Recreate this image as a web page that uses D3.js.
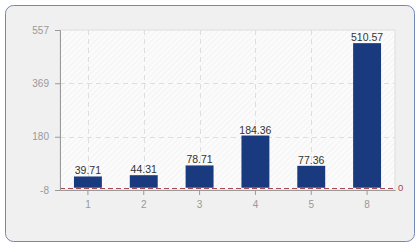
<!DOCTYPE html>
<html>
<head>
<meta charset="utf-8">
<script src="https://cdn.jsdelivr.net/npm/d3@7"></script>
<style>
  body { margin: 0; background: #fff; }
  svg { display: block; font-family: "Liberation Sans", Arial, sans-serif; }
</style>
</head>
<body>
<div class="chartWrapper"></div>
<script>
var categories = ["1", "2", "3", "4", "5", "8"]
var values = [39.71, 44.31, 78.71, 184.36, 77.36, 510.57]
var yTicks = [-8, 180, 369, 557]

var W = 420, H = 250
var margin = {top: 30, right: 25, bottom: 60, left: 60}
var plotW = W - margin.left - margin.right,
    plotH = H - margin.top - margin.bottom

var svg = d3.select('.chartWrapper').append('svg')
    .attr('width', W)
    .attr('height', H)

// hatched plot background
var defs = svg.append('defs')
var pat = defs.append('pattern')
    .attr('id', 'hatch')
    .attr('patternUnits', 'userSpaceOnUse')
    .attr('width', 4)
    .attr('height', 4)
    .attr('patternTransform', 'rotate(45)')
pat.append('rect').attr('width', 4).attr('height', 4).attr('fill', '#fbfbfb')
pat.append('line').attr('x1', 0).attr('y1', 0).attr('x2', 0).attr('y2', 4)
    .attr('stroke', '#ececec').attr('stroke-width', 1)

// outer panel
svg.append('rect')
    .attr('x', 5.5).attr('y', 5.5)
    .attr('width', 409).attr('height', 236)
    .attr('rx', 8).attr('ry', 8)
    .attr('fill', '#f0f0f0')
    .attr('stroke', '#7387b5')
    .attr('stroke-width', 1)

var g = svg.append('g').attr('transform', 'translate(' + margin.left + ',' + margin.top + ')')

var x = d3.scaleBand().domain(categories).range([0, plotW]).paddingInner(0.5).paddingOuter(0.25)
var y = d3.scaleLinear().domain([yTicks[0], yTicks[yTicks.length - 1]]).range([plotH, 0])

g.append('rect')
    .attr('width', plotW).attr('height', plotH)
    .attr('fill', 'url(#hatch)')
    .attr('stroke', '#dddddd')

// grid
g.selectAll('.vgrid')
    .data(categories.slice(0, -1))
    .enter().append('line')
    .attr('x1', function(d) { return Math.round(x(d) + x.bandwidth() / 2) + 0.5 })
    .attr('x2', function(d) { return Math.round(x(d) + x.bandwidth() / 2) + 0.5 })
    .attr('y1', 0).attr('y2', plotH)
    .attr('stroke', '#dedede')
    .attr('stroke-dasharray', '5,4')

g.selectAll('.hgrid')
    .data(yTicks.slice(1, -1))
    .enter().append('line')
    .attr('x1', 0).attr('x2', plotW)
    .attr('y1', function(d) { return Math.round(y(d)) + 0.5 })
    .attr('y2', function(d) { return Math.round(y(d)) + 0.5 })
    .attr('stroke', '#dedede')
    .attr('stroke-dasharray', '5,4')

// bars
g.selectAll('.bar')
    .data(values)
    .enter().append('rect')
    .attr('x', function(d, i) { return x(categories[i]) })
    .attr('width', x.bandwidth())
    .attr('y', function(d) { return y(d) })
    .attr('height', function(d) { return y(0) - y(d) })
    .attr('fill', '#1a3a80')

g.selectAll('.lbl')
    .data(values)
    .enter().append('text')
    .attr('x', function(d, i) { return x(categories[i]) + x.bandwidth() / 2 })
    .attr('y', function(d) { return y(d) - 2 })
    .attr('text-anchor', 'middle')
    .attr('font-size', 10.5)
    .attr('fill', '#333')
    .text(function(d) { return d.toFixed(2) })

// zero line
g.append('line')
    .attr('x1', 0).attr('x2', plotW)
    .attr('y1', Math.round(y(0)) + 0.5).attr('y2', Math.round(y(0)) + 0.5)
    .attr('stroke', '#a8474d')
    .attr('stroke-dasharray', '5,3')
g.append('text')
    .attr('x', plotW + 3).attr('y', y(0) + 3)
    .attr('font-size', 9.5)
    .attr('fill', '#a8474d')
    .text('0')

// axes
var yAxis = g.append('g')
    .call(d3.axisLeft(y).tickValues(yTicks).tickSize(5).tickPadding(6).tickFormat(function(d) { return String(d) }))
var xAxis = g.append('g')
    .attr('transform', 'translate(0,' + plotH + ')')
    .call(d3.axisBottom(x).tickSize(5).tickPadding(6).tickSizeOuter(0))

;[yAxis, xAxis].forEach(function(a) {
    a.select('.domain').attr('stroke', '#999')
    a.selectAll('.tick line').attr('stroke', '#999')
    a.selectAll('.tick text').attr('fill', '#999').attr('font-size', 10)
        .attr('font-family', '"Liberation Sans", Arial, sans-serif')
})
</script>
</body>
</html>
